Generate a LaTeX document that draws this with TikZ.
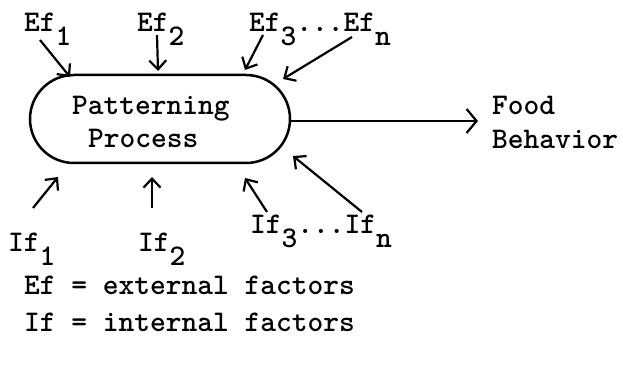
\documentclass[tikz,border=0pt]{standalone}
\usepackage{fontspec}
\usetikzlibrary{arrows.meta}
\newcommand\dn[1]{\raisebox{-14pt}{#1}}
\tikzset{
  lbl/.style={inner sep=0pt, anchor=base west, font=\fontsize{30}{36}\selectfont\ttfamily\bfseries},
  arr/.style={line width=2.2pt, -{Straight Barb[length=9pt,width=17pt]}},
  proc/.style={draw, line width=2.5pt, rounded corners=44pt, minimum width=260pt, minimum height=88pt, inner sep=0pt}
}
\begin{document}
\begin{tikzpicture}[x=1pt,y=-1pt]
\useasboundingbox (0,0) rectangle (623,374);
% process
\node[proc] (pp) at (160,119) {};
\node[lbl] (t1) at (72,115) {Patterning};
\node[lbl] (t2) at (88,148) {Process};
% outputs
\node[lbl] (food) at (492,115) {Food};
\node[lbl] (beh) at (492,149) {Behavior};
% external labels
\node[lbl] (ef1) at (24,32) {Ef\dn{1}};
\node[lbl] (ef2) at (137,32) {Ef\dn{2}};
\node[lbl] (ef3) at (249,32) {Ef\dn{3}...Ef\dn{n}};
% internal labels
\node[lbl] (if1) at (8,251) {If\dn{1}};
\node[lbl] (if2) at (138,251) {If\dn{2}};
\node[lbl] (if3) at (250,233) {If\dn{3}...If\dn{n}};
% legend
\node[lbl] (lg1) at (24,294) {Ef = external factors};
\node[lbl] (lg2) at (24,331) {If = internal factors};
% arrow coordinates
\coordinate (a1s) at (40,40);  \coordinate (a1e) at (70,77);
\coordinate (a2s) at (157,35); \coordinate (a2e) at (158,71);
\coordinate (a3s) at (263,35); \coordinate (a3e) at (245,70);
\coordinate (a4s) at (352,37); \coordinate (a4e) at (283,79);
\coordinate (b1s) at (33,208); \coordinate (b1e) at (58,177);
\coordinate (b2s) at (152,208); \coordinate (b2e) at (152,177);
\coordinate (b3s) at (267,212); \coordinate (b3e) at (245,178);
\coordinate (b4s) at (362,212); \coordinate (b4e) at (293,156);
\coordinate (oute) at (478,121);
\draw[arr] (a1s) -- (a1e);
\draw[arr] (a2s) -- (a2e);
\draw[arr] (a3s) -- (a3e);
\draw[arr] (a4s) -- (a4e);
\draw[arr] (b1s) -- (b1e);
\draw[arr] (b2s) -- (b2e);
\draw[arr] (b3s) -- (b3e);
\draw[arr] (b4s) -- (b4e);
\draw[line width=2.2pt, -{Straight Barb[length=10pt,width=24pt]}] (pp.east |- oute) -- (oute);
\end{tikzpicture}
\end{document}
